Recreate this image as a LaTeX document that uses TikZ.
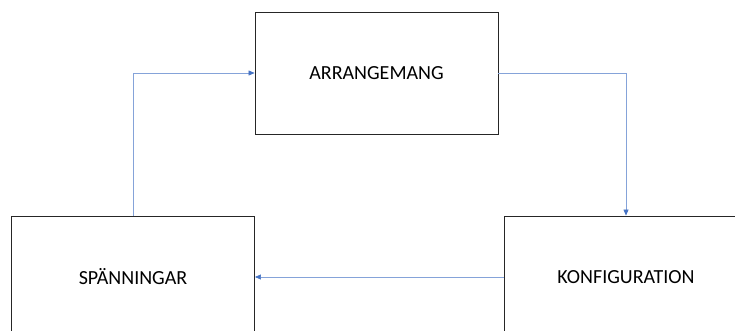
\documentclass[tikz,border=0pt]{standalone}
\usepackage{fontspec}
\setmainfont{Carlito}
\usetikzlibrary{positioning,arrows.meta}
\definecolor{linkblue}{HTML}{4472C4}
\begin{document}
\begin{tikzpicture}[x=1pt, y=-1pt,
  font=\fontsize{20}{24}\selectfont,
  box/.style={draw, line width=0.9pt, black!85, text=black, align=center,
    minimum width=243pt, minimum height=122pt, inner sep=0pt},
  arr/.style={-{Triangle[length=6pt, width=5pt, color=linkblue]}, line width=0.6pt, linkblue!65}
]
\useasboundingbox (0,0) rectangle (735,331);
\clip (0,0) rectangle (735,331);
\node[box] (arrangemang) at (376.5,73) {ARRANGEMANG};
\node[box] (spann) at (133,277) {SPÄNNINGAR};
\node[box] (konf) at (626,277) {KONFIGURATION};
\draw[arr] (arrangemang.east) -| (konf.north);
\draw[arr] (konf.west) -- (spann.east);
\draw[arr] (spann.north) |- (arrangemang.west);
\end{tikzpicture}
\end{document}
